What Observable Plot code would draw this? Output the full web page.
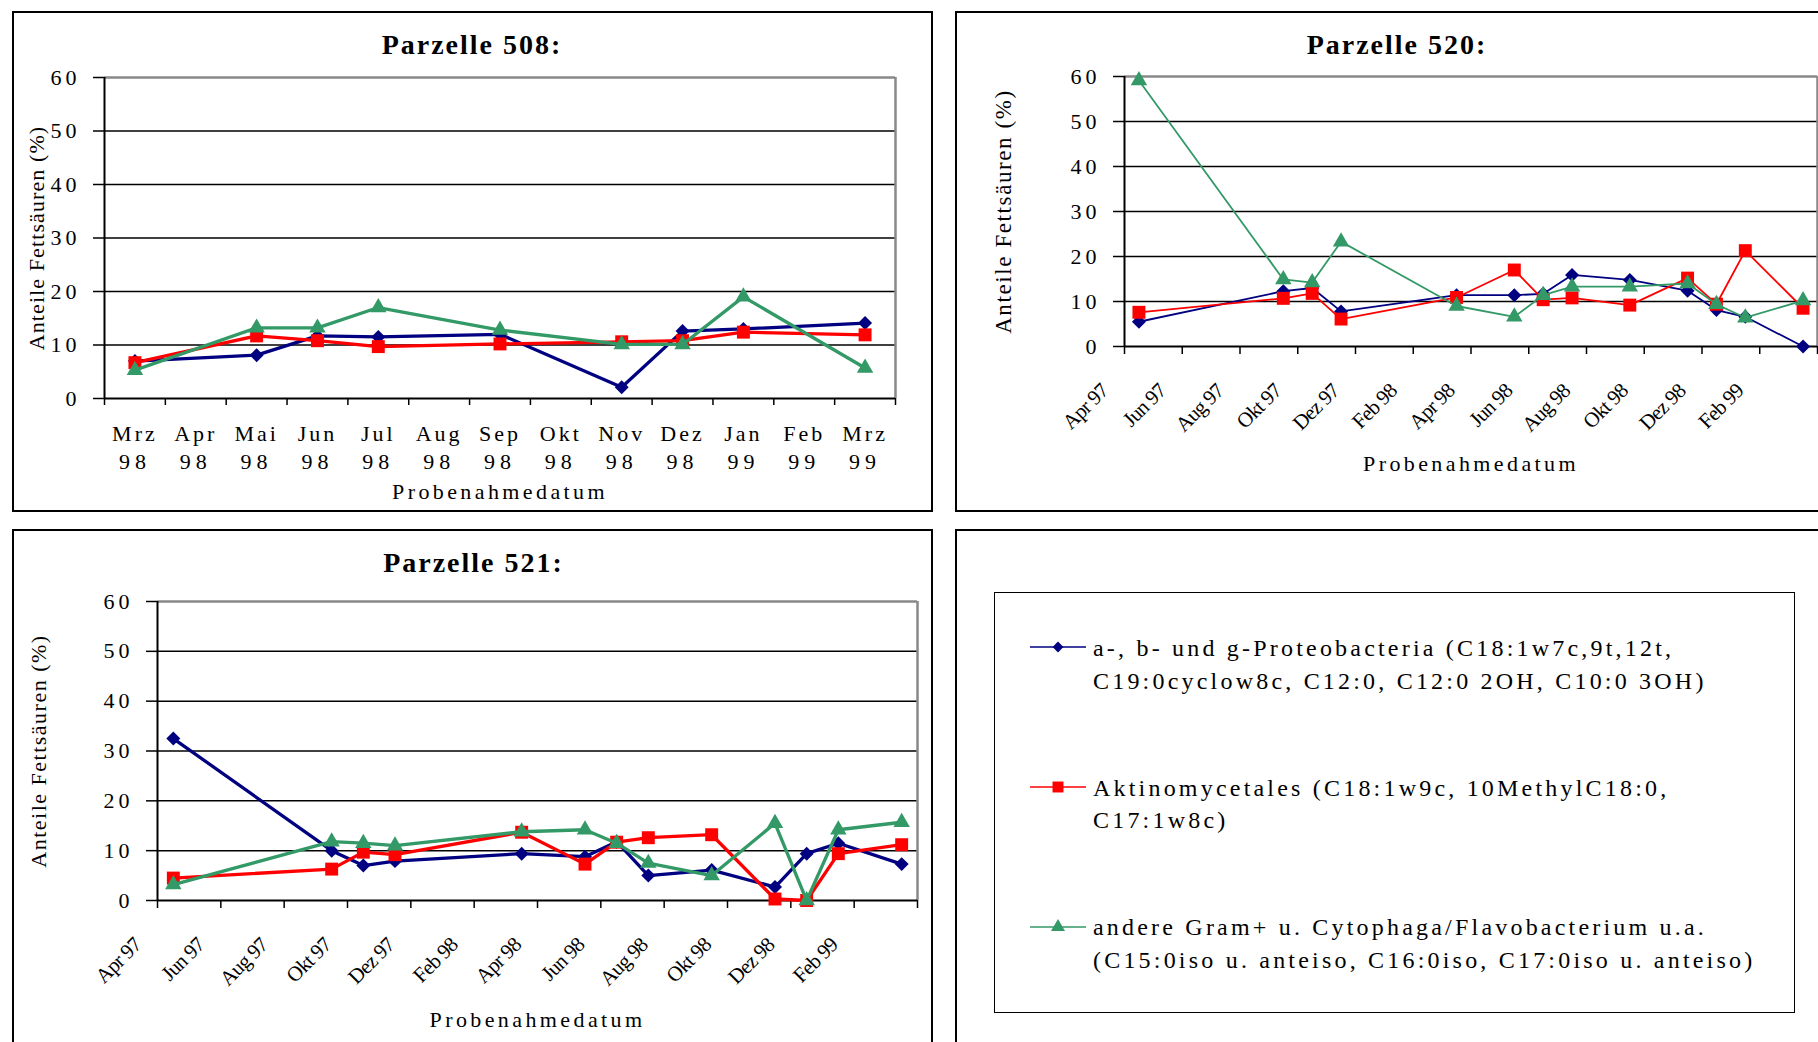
<!DOCTYPE html>
<html>
<head>
<meta charset="utf-8">
<script src="https://cdn.jsdelivr.net/npm/d3@7"></script>
<script src="https://cdn.jsdelivr.net/npm/@observablehq/plot@0.6"></script>
<style>
  html, body { margin: 0; padding: 0; background: #fff; }
  body { width: 1818px; height: 1042px; overflow: hidden; position: relative; font-family: "Liberation Serif", "Times New Roman", serif; }
  .panel { position: absolute; border: 2px solid #000; box-sizing: border-box; }
  svg { overflow: visible; }
</style>
</head>
<body>
<div class="panel" style="left:12px;top:11px;width:921px;height:501px"></div>
<div class="panel" style="left:955px;top:11px;width:920px;height:501px"></div>
<div class="panel" style="left:12px;top:529px;width:921px;height:600px"></div>
<div class="panel" style="left:955px;top:529px;width:920px;height:600px"></div>
<div class="panel" style="left:994px;top:592px;width:801px;height:421px;border-width:1.5px"></div>
<script>
// ---------- shared ----------
const seriesNames = ["a-, b- und g-Proteobacteria", "Aktinomycetales", "andere Gram+ u. Cytophaga/Flavobacterium u.a."];
const seriesColors = ["#000080", "#FF0000", "#339966"];
const seriesSymbols = ["diamond2", "square", "triangle"];
const legendLines = [
  ["a-, b- und g-Proteobacteria (C18:1w7c,9t,12t,", "C19:0cyclow8c, C12:0, C12:0 2OH, C10:0 3OH)"],
  ["Aktinomycetales (C18:1w9c, 10MethylC18:0,", "C17:1w8c)"],
  ["andere Gram+ u. Cytophaga/Flavobacterium u.a.", "(C15:0iso u. anteiso, C16:0iso, C17:0iso u. anteiso)"]
];
const monthAbbr = ["Jan", "Feb", "Mrz", "Apr", "Mai", "Jun", "Jul", "Aug", "Sep", "Okt", "Nov", "Dez"];
const yTicks = [0, 10, 20, 30, 40, 50, 60];
const yTitle = "Anteile Fettsäuren (%)";
const xTitle = "Probenahmedatum";

// ---------- Parzelle 508 ----------
const title508 = "Parzelle 508:";
const axis508 = ["Mrz 98", "Apr 98", "Mai 98", "Jun 98", "Jul 98", "Aug 98", "Sep 98", "Okt 98", "Nov 98", "Dez 98", "Jan 99", "Feb 99", "Mrz 99"];
const dates508 = ["Mrz 98", "Mai 98", "Jun 98", "Jul 98", "Sep 98", "Nov 98", "Dez 98", "Jan 99", "Mrz 99"];
const proteo508 = [7.0, 8.1, 11.7, 11.5, 12.0, 2.1, 12.6, 13.0, 14.1];
const aktino508 = [6.7, 11.7, 10.8, 9.7, 10.2, 10.6, 10.8, 12.4, 11.9];
const gram508   = [5.3, 13.2, 13.2, 17.0, 12.8, 10.1, 10.1, 19.0, 5.7];

// ---------- Parzelle 520 / 521 (shared date axis) ----------
const title520 = "Parzelle 520:";
const title521 = "Parzelle 521:";
const ticks97 = ["Apr 97", "Jun 97", "Aug 97", "Okt 97", "Dez 97", "Feb 98", "Apr 98", "Jun 98", "Aug 98", "Okt 98", "Dez 98", "Feb 99"];
const axisEnd97 = "Apr 99";
const dates97 = ["Apr 97", "Sep 97", "Okt 97", "Nov 97", "Mrz 98", "Mai 98", "Jun 98", "Jul 98", "Sep 98", "Nov 98", "Dez 98", "Jan 99", "Mrz 99"];

const proteo520 = [5.5, 12.3, 13.0, 7.8, 11.4, 11.4, 11.7, 15.9, 14.8, 12.4, 8.1, 6.6, 0.0];
const aktino520 = [7.6, 10.7, 11.8, 6.1, 10.9, 17.0, 10.4, 10.8, 9.2, 15.2, 9.4, 21.3, 8.5];
const gram520   = [59.1, 14.9, 14.2, 23.3, 9.0, 6.6, 11.4, 13.3, 13.3, 14.0, 9.4, 6.4, 10.2];

const proteo521 = [32.5, 10.0, 7.0, 7.9, 9.4, 8.8, 11.8, 5.0, 6.1, 2.7, 9.4, 11.5, 7.3];
const aktino521 = [4.5, 6.3, 9.7, 9.2, 13.7, 7.3, 11.7, 12.6, 13.2, 0.3, 0.0, 9.4, 11.2];
const gram521   = [3.2, 11.8, 11.5, 11.0, 13.8, 14.2, 11.5, 7.5, 5.0, 15.5, 0.0, 14.2, 15.7];

// ---------- helpers ----------
function mIdx(label) { const [m, y] = label.split(" "); return (+y) * 12 + monthAbbr.indexOf(m); }
function makeRows(dates, origin, valueLists) {
  return valueLists.flatMap((arr, s) => arr.map((v, i) => ({s, x: mIdx(dates[i]) - origin + 0.5, y: v})));
}
const symR = [6.3, 7.3, 6.1];
function seriesMarks(rows, lw) {
  return seriesNames.flatMap((name, s) => {
    const data = rows.filter(r => r.s === s);
    return [
      Plot.line(data, {x: "x", y: "y", stroke: seriesColors[s], strokeWidth: lw}),
      Plot.dot(data, {x: "x", y: "y", symbol: seriesSymbols[s], fill: seriesColors[s], stroke: "none", r: symR[s]})
    ];
  });
}
function frameMarks(xMax, xTickVals, xTickSize) {
  return [
    Plot.ruleY([10, 20, 30, 40, 50], {stroke: "black", strokeWidth: 1.5}),
    Plot.ruleY([60], {stroke: "#888", strokeWidth: 2.5}),
    Plot.ruleX([xMax], {stroke: "#888", strokeWidth: 2.5}),
    Plot.ruleX([0], {stroke: "black", strokeWidth: 2}),
    Plot.ruleY([0], {stroke: "black", strokeWidth: 2}),
    Plot.axisY({ticks: yTicks, tickSize: 11, tickPadding: 13, tickFormat: d => String(d), label: null, fontSize: 22, strokeWidth: 1.5}),
    Plot.axisX({ticks: xTickVals, tickSize: xTickSize, tickFormat: () => "", label: null, strokeWidth: 1.5})
  ];
}
// letter spacing by text content (imitates the wide typesetting of the original)
function spacing(svg, rules) {
  svg.querySelectorAll("text").forEach(t => {
    const s = t.textContent;
    for (const [test, px] of rules) {
      if (test(s)) { t.style.letterSpacing = px + "px"; break; }
    }
  });
}
const yTickStrings = new Set(yTicks.map(String));
const baseStyle = {fontFamily: '"Liberation Serif", "Times New Roman", serif', fontSize: "22px", background: "transparent", color: "black", overflow: "visible"};
function place(svg, left, top) {
  svg.style.position = "absolute";
  svg.style.left = left + "px";
  svg.style.top = top + "px";
  document.body.appendChild(svg);
}

// ---------- chart 508 ----------
{
  const rows = makeRows(dates508, mIdx("Mrz 98"), [proteo508, aktino508, gram508]);
  const svg = Plot.plot({
    width: 920, height: 500, marginLeft: 92, marginTop: 66, marginRight: 37, marginBottom: 113,
    x: {domain: [0, axis508.length], axis: null},
    y: {domain: [0, 60], axis: null},
    style: baseStyle,
    marks: [
      ...frameMarks(axis508.length, d3.range(0, axis508.length + 1), 7),
      ...seriesMarks(rows, 3.3),
      Plot.text(axis508, {x: (d, i) => i + 0.5, frameAnchor: "bottom", text: d => d.split(" ")[0], dy: 35, lineAnchor: "middle", textAnchor: "middle", fontSize: 22}),
      Plot.text(axis508, {x: (d, i) => i + 0.5, frameAnchor: "bottom", text: d => d.split(" ")[1], dy: 63, lineAnchor: "middle", textAnchor: "middle", fontSize: 22}),
      Plot.text([xTitle], {frameAnchor: "bottom", dy: 93, lineAnchor: "middle", textAnchor: "middle", fontSize: 22}),
      Plot.text([yTitle], {frameAnchor: "left", rotate: -90, dx: -68, lineAnchor: "middle", textAnchor: "middle", fontSize: 22}),
      Plot.text([title508], {frameAnchor: "top", dx: -28, dy: -32, lineAnchor: "middle", textAnchor: "middle", fontSize: 28, fontWeight: "bold"})
    ]
  });
  spacing(svg, [
    [s => s.startsWith("Parzelle"), 2],
    [s => s === xTitle, 3.4],
    [s => s === yTitle, 1.1],
    [s => yTickStrings.has(s), 4],
    [s => monthAbbr.includes(s), 3],
    [s => /^\d\d$/.test(s), 5]
  ]);
  place(svg, 12, 11);
}

// ---------- charts 520 / 521 ----------
function dateChart(o) {
  const origin = mIdx(ticks97[0]);
  const xMax = mIdx(axisEnd97) - origin;
  const rows = makeRows(dates97, origin, o.values);
  const svg = Plot.plot({
    width: o.width, height: o.height, marginLeft: o.mL, marginTop: o.mT, marginRight: o.mR, marginBottom: o.mB,
    x: {domain: [0, xMax], axis: null},
    y: {domain: [0, 60], axis: null},
    style: baseStyle,
    marks: [
      ...frameMarks(xMax, d3.range(0, xMax + 1, 2), 8),
      ...seriesMarks(rows, o.lw),
      Plot.text(ticks97, {x: d => mIdx(d) - origin, frameAnchor: "bottom", rotate: -45, textAnchor: "end", lineAnchor: "middle", dx: -20, dy: 41, fontSize: 21}),
      Plot.text([xTitle], {frameAnchor: "bottom", dy: o.xtDy, lineAnchor: "middle", textAnchor: "middle", fontSize: 22}),
      Plot.text([yTitle], {frameAnchor: "left", rotate: -90, dx: o.ytDx, lineAnchor: "middle", textAnchor: "middle", fontSize: o.ytSize}),
      Plot.text([o.title], {frameAnchor: "top", dx: o.tDx, dy: o.tDy, lineAnchor: "middle", textAnchor: "middle", fontSize: 28, fontWeight: "bold"})
    ]
  });
  spacing(svg, [
    [s => s.startsWith("Parzelle"), 2],
    [s => s === xTitle, 3.4],
    [s => s === yTitle, o.ytLs],
    [s => yTickStrings.has(s), 4],
    [s => ticks97.includes(s), -0.8]
  ]);
  place(svg, o.left, o.top);
}
dateChart({title: title520, values: [proteo520, aktino520, gram520], left: 955, top: 11, width: 863, height: 500,
  mL: 169, mT: 65, mR: 1, mB: 165, lw: 1.8, xtDy: 117, ytDx: -121, ytSize: 23, ytLs: 1.6, tDx: -74, tDy: -31});
dateChart({title: title521, values: [proteo521, aktino521, gram521], left: 12, top: 529, width: 920, height: 513,
  mL: 145, mT: 72, mR: 15, mB: 142, lw: 3.3, xtDy: 119, ytDx: -119, ytSize: 22, ytLs: 1.5, tDx: -64, tDy: -38});

// ---------- legend ----------
{
  const svg = d3.create("svg").attr("width", 1818).attr("height", 1042)
    .style("position", "absolute").style("left", "0px").style("top", "0px").style("pointer-events", "none");
  const markerY = [647, 787, 927];
  const baselines = [[655.5, 689], [795.5, 827.5], [935, 968]];
  const symbolTypes = [d3.symbolDiamond2, d3.symbolSquare, d3.symbolTriangle];
  const symbolSizes = [75, 120, 85];
  legendLines.forEach((lines, s) => {
    svg.append("line").attr("x1", 1030).attr("x2", 1086).attr("y1", markerY[s]).attr("y2", markerY[s])
      .attr("stroke", seriesColors[s]).attr("stroke-width", 1.7);
    svg.append("path").attr("d", d3.symbol(symbolTypes[s], symbolSizes[s])())
      .attr("transform", `translate(1058,${markerY[s]})`).attr("fill", seriesColors[s]);
    lines.forEach((line, j) => {
      svg.append("text").attr("x", 1093).attr("y", baselines[s][j]).text(line)
        .attr("font-family", '"Liberation Serif", "Times New Roman", serif').attr("font-size", 24)
        .style("letter-spacing", "3.2px").attr("fill", "black");
    });
  });
  document.body.appendChild(svg.node());
}
</script>
</body>
</html>
